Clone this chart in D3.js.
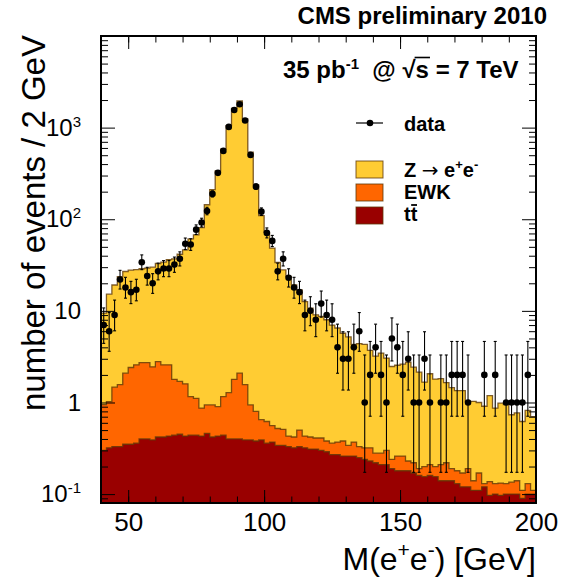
<!DOCTYPE html>
<html><head><meta charset="utf-8">
<script src="https://cdn.jsdelivr.net/npm/d3@7"></script>
<style>
body{margin:0;background:#fff}
text{font-family:"Liberation Sans",Arial,Helvetica,sans-serif}
</style>
</head><body>
<svg id="c" width="561" height="580"></svg>
<script>
// ---- data (bins of 2 GeV from 40 to 200) ----
const binLow = d3.range(40, 200, 2);
const ttbar = [0.30,0.32,0.33,0.33,0.35,0.35,0.36,0.40,0.40,0.39,
  0.42,0.42,0.43,0.44,0.45,0.43,0.44,0.44,0.43,0.46,
  0.42,0.43,0.44,0.40,0.40,0.40,0.39,0.39,0.38,0.39,
  0.36,0.37,0.34,0.34,0.33,0.32,0.33,0.32,0.31,0.31,
  0.30,0.29,0.27,0.27,0.26,0.26,0.26,0.25,0.24,0.23,
  0.22,0.21,0.21,0.19,0.18,0.18,0.18,0.17,0.16,0.155,
  0.16,0.155,0.14,0.14,0.14,0.13,0.12,0.12,0.11,0.11,
  0.12,0.097,0.10,0.097,0.10,0.10,0.10,0.09,0.10,0.10];
const ewk = [0.65,0.70,1.14,1.24,1.74,2.06,2.22,2.33,2.33,2.06,
  2.38,2.16,2.15,1.35,1.25,1.17,0.72,0.67,0.44,0.48,
  0.52,0.47,0.72,0.88,1.39,1.69,1.18,0.55,0.42,0.26,
  0.26,0.19,0.18,0.17,0.10,0.10,0.17,0.11,0.11,0.10,
  0.11,0.09,0.09,0.10,0.12,0.08,0.11,0.08,0.08,0.09,
  0.06,0.07,0.09,0.05,0.08,0.08,0.05,0.05,0.03,0.045,
  0.05,0.045,0.07,0.08,0.05,0.05,0.05,0.07,0.03,0.06,
  0.01,0.04,0.03,0.035,0.03,0.035,0.04,0.02,0.03,0.01];
const zee = [8.5,14.2,17.7,22.1,24.8,25.4,25.6,26.1,26.6,27.5,
  30.1,31.4,33.7,35.2,39.8,44.7,59.8,66.5,80.1,143,
  210,336,580,1051,1624,1953,1243,538,236,109,
  71.4,47.9,33.2,27.5,23.3,18.8,16.4,12.2,10.3,8.64,
  8.29,7.62,6.64,6.13,5.32,4.86,3.93,4.07,3.98,3.38,
  2.92,3.17,2.75,2.23,2.29,2.36,2.52,2.21,1.95,1.47,
  1.85,1.60,1.61,1.43,1.26,1.17,1.18,0.84,0.89,0.83,
  0.78,1.05,0.74,0.85,0.82,0.60,0.63,0.51,0.69,0.59];
const dataCounts = [7,6,9,22,18,16,17,34,24,20,
  27,29,29,32,37,54,53,77,92,123,
  189,321,557,1018,1559,1798,1194,504,227,121,
  71,58,27,37,23,18,16,9,10,8,
  12,9,8,4,3,3,4,6,1,2,
  4,2,1,5,4,2,3,1,1,3,
  1,0,1,1,2,2,2,1,0,0,
  2,0,2,0,1,1,1,1,2,0];
// 68% Poisson (Garwood) interval bounds for small counts
const poissonLow  = [0,0.173,0.708,1.367,2.086,2.840,3.620,4.419,5.232,6.057,6.891];
const poissonHigh = [1.841,3.300,4.638,5.918,7.163,8.382,9.584,10.77,11.95,13.11,14.27];

const xTickLabels = [50,100,150,200];
const yTickValues = [0.1,1,10,100,1000];
const yTickLabels = [["10","-1"],["1",""],["10",""],["10","2"],["10","3"]];
const seriesKeys = ["ttbar","ewk","zee"];
const seriesColors = {zee:"#ffcc33", ewk:"#ff6600", ttbar:"#990000"};

// ---- layout ----
const L=101, R=536, T=36, B=503;
const svg = d3.select("#c");
svg.append("rect").attr("width",561).attr("height",580).attr("fill","#fff");
const x = d3.scaleLinear().domain([40,200]).range([L,R]);
const y = d3.scaleLog().domain([0.08,10000]).range([B,T]);

const rows = binLow.map((b,i)=>({lo:b, ttbar:ttbar[i], ewk:ewk[i], zee:zee[i], n:dataCounts[i]}));
const stacked = d3.stack().keys(seriesKeys)(rows);

svg.append("clipPath").attr("id","clip").append("rect")
  .attr("x",L).attr("y",T).attr("width",R-L).attr("height",B-T);
const plot = svg.append("g").attr("clip-path","url(#clip)");

// draw layers from top of stack down (total first)
const outline = "#5e3808";
[...stacked].reverse().forEach(layer=>{
  const pts = layer.map((d,i)=>({x:binLow[i], v:d[1]}));
  pts.push({x:200, v:layer[layer.length-1][1]});
  const area = d3.area().curve(d3.curveStepAfter)
    .x(d=>x(d.x)).y0(B+5).y1(d=>y(d.v));
  const line = d3.line().curve(d3.curveStepAfter)
    .x(d=>x(d.x)).y(d=>y(d.v));
  plot.append("path").attr("d",area(pts)).attr("fill",seriesColors[layer.key]);
  plot.append("path").attr("d",line(pts)).attr("fill","none")
    .attr("stroke",outline).attr("stroke-width",1.3).attr("stroke-opacity",0.8);
});

// data points
const pts = rows.filter(d=>d.n>0);
const lo = n => n<=10 ? poissonLow[n] : n-Math.sqrt(n);
const hi = n => n<=10 ? poissonHigh[n] : n+Math.sqrt(n)+1;
const g = plot.append("g");
pts.forEach(d=>{
  const cx = x(d.lo+1);
  const y1 = y(Math.max(lo(d.n),0.05)), y2 = y(hi(d.n));
  g.append("line").attr("x1",cx).attr("x2",cx).attr("y1",y1).attr("y2",y2)
    .attr("stroke","#000").attr("stroke-width",1.1);
  [y1,y2].forEach(yy=>g.append("line").attr("x1",cx-1.5).attr("x2",cx+1.5)
    .attr("y1",yy).attr("y2",yy).attr("stroke","#000").attr("stroke-width",1.1));
  g.append("circle").attr("cx",cx).attr("cy",y(d.n)).attr("r",3.3).attr("fill","#000");
});

// ---- axes ----
const minorX = d3.range(40,201,10);
const ax = svg.append("g").attr("stroke-width",1);
// bottom
ax.append("g").attr("transform",`translate(0,${B})`)
  .call(d3.axisBottom(x).tickValues(minorX).tickSize(-6.5).tickFormat(""));
ax.append("g").attr("transform",`translate(0,${B})`)
  .call(d3.axisBottom(x).tickValues(xTickLabels).tickSize(-13).tickPadding(10).tickFormat(d3.format("d")))
  .selectAll("text").attr("font-size",26).attr("fill","#000");
// top
ax.append("g").attr("transform",`translate(0,${T})`)
  .call(d3.axisTop(x).tickValues(minorX).tickSize(-6.5).tickFormat(""));
ax.append("g").attr("transform",`translate(0,${T})`)
  .call(d3.axisTop(x).tickValues(xTickLabels).tickSize(-13).tickFormat(""));
// left
const minorY = y.ticks().filter(v=>!yTickValues.includes(v));
ax.append("g").attr("transform",`translate(${L},0)`)
  .call(d3.axisLeft(y).tickValues(minorY).tickSize(-7).tickFormat(""));
const yl = ax.append("g").attr("transform",`translate(${L},0)`)
  .call(d3.axisLeft(y).tickValues(yTickValues).tickSize(-14).tickPadding(20).tickFormat(""));
yl.selectAll(".tick text").each(function(d,i){
  const t = d3.select(this).attr("font-size",24).attr("fill","#000").attr("dy","0.32em");
  t.append("tspan").text(yTickLabels[i][0]);
  if(yTickLabels[i][1]) t.append("tspan").attr("font-size",15).attr("dy","-0.6em").text(yTickLabels[i][1]);
});
// right
ax.append("g").attr("transform",`translate(${R},0)`)
  .call(d3.axisRight(y).tickValues(minorY).tickSize(-7).tickFormat(""));
ax.append("g").attr("transform",`translate(${R},0)`)
  .call(d3.axisRight(y).tickValues(yTickValues).tickSize(-14).tickFormat(""));
ax.selectAll(".domain").remove();
ax.selectAll("line").attr("stroke","#000");
svg.append("rect").attr("x",L).attr("y",T).attr("width",R-L).attr("height",B-T)
  .attr("fill","none").attr("stroke","#000").attr("stroke-width",2);

// ---- titles ----
const xt = svg.append("text").attr("x",R).attr("y",570).attr("text-anchor","end").attr("font-size",32);
xt.append("tspan").text("M(e");
xt.append("tspan").attr("font-size",21).attr("dy","-0.6em").text("+");
xt.append("tspan").attr("dy","0.39em").attr("font-size",32).text("e");
xt.append("tspan").attr("font-size",21).attr("dy","-0.6em").text("-");
xt.append("tspan").attr("dy","0.39em").attr("font-size",32).text(") [GeV]");

svg.append("text").attr("transform","translate(45,35) rotate(-90)")
  .attr("text-anchor","end").attr("font-size",33).text("number of events / 2 GeV");

svg.append("text").attr("x",547).attr("y",24).attr("text-anchor","end")
  .attr("font-size",24).attr("font-weight","bold").text("CMS preliminary 2010");

const lumi = svg.append("text").attr("x",283).attr("y",78).attr("font-size",24).attr("font-weight","bold");
lumi.append("tspan").text("35 pb");
lumi.append("tspan").attr("font-size",15).attr("dy","-0.6em").text("-1");
lumi.append("tspan").attr("dy","0.375em").attr("font-size",24).attr("xml:space","preserve").text("  @ \u221A");
lumi.append("tspan").text("s");
lumi.append("tspan").text(" = 7 TeV");
{
  const node = lumi.node();
  const idx = node.textContent.indexOf("\u221A");
  const b = node.getEndPositionOfChar(idx+1);
  const rs = node.getExtentOfChar(idx);
  svg.append("line").attr("x1",rs.x+rs.width-1).attr("x2",b.x+1)
    .attr("y1",rs.y+1.5).attr("y2",rs.y+1.5).attr("stroke","#000").attr("stroke-width",1.6);
}

// ---- legend ----
const lg = svg.append("g");
lg.append("line").attr("x1",356).attr("x2",383).attr("y1",123).attr("y2",123).attr("stroke","#000").attr("stroke-width",1.2);
lg.append("circle").attr("cx",370).attr("cy",123).attr("r",3.3).attr("fill","#000");
lg.append("text").attr("x",404).attr("y",131).attr("font-size",20).attr("font-weight","bold").text("data");
const legItems = [
  {key:"zee", y:161},
  {key:"ewk", y:184},
  {key:"ttbar", y:207}
];
legItems.forEach(it=>{
  lg.append("rect").attr("x",356).attr("y",it.y).attr("width",27).attr("height",17)
    .attr("fill",seriesColors[it.key]).attr("stroke",outline).attr("stroke-width",1).attr("stroke-opacity",0.8);
});
const t1 = lg.append("text").attr("x",404).attr("y",177).attr("font-size",20).attr("font-weight","bold");
t1.append("tspan").text("Z ");
t1.append("tspan").attr("font-family","DejaVu Sans").attr("font-weight","normal").text("\u2192");
t1.append("tspan").text(" e");
t1.append("tspan").attr("font-size",13).attr("dy","-0.6em").text("+");
t1.append("tspan").attr("font-size",20).attr("dy","0.39em").text("e");
t1.append("tspan").attr("font-size",13).attr("dy","-0.6em").text("-");
lg.append("text").attr("x",404).attr("y",199).attr("font-size",20).attr("font-weight","bold").text("EWK");
const t3 = lg.append("text").attr("x",404).attr("y",221).attr("font-size",20).attr("font-weight","bold").text("tt");
{
  const node = t3.node();
  const a = node.getStartPositionOfChar(1), b = node.getEndPositionOfChar(1);
  lg.append("line").attr("x1",a.x+0.5).attr("x2",b.x-0.3).attr("y1",221-16).attr("y2",221-16)
    .attr("stroke","#000").attr("stroke-width",1.8);
}
</script>
</body></html>
